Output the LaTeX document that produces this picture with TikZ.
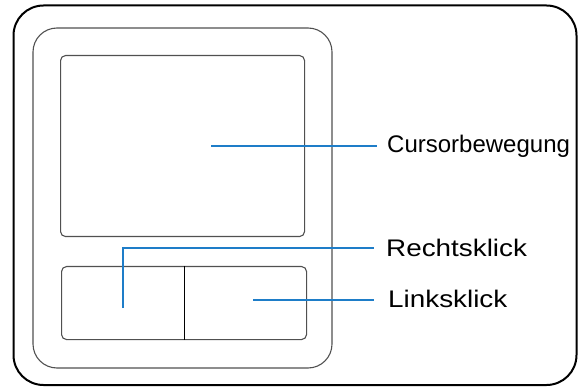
\documentclass[tikz,border=0pt]{standalone}
\usepackage{fontspec}
\usepackage{graphicx}
\setmainfont{Liberation Sans}
\definecolor{callout}{RGB}{30,125,200}
\definecolor{padgray}{RGB}{80,80,80}
\tikzset{
  frameout/.style={draw=black,line width=2pt,rounded corners=30pt},
  framemid/.style={draw=padgray,line width=1.1pt,rounded corners=24pt},
  padbox/.style={draw=padgray,line width=1.1pt,rounded corners=5pt},
  calloutline/.style={draw=callout,line width=1.2pt},
  lbl/.style={font=\fontsize{24}{28}\selectfont,inner sep=0pt,anchor=base west,text=black}
}
\begin{document}
\begin{tikzpicture}[x=1pt,y=-1pt]
\useasboundingbox (0,0) rectangle (578,387);
% frames
\draw[frameout] (13.5,5.5) rectangle (576.5,385);
\draw[framemid] (33,28) rectangle (332,368);
% touch pad and buttons
\node[padbox,minimum width=244pt,minimum height=181pt,anchor=north west,inner sep=0pt] (pad) at (60,55) {};
\node[padbox,minimum width=245pt,minimum height=73pt,anchor=north west,inner sep=0pt] (btns) at (61,266) {};
\draw[black,line width=1pt] (btns.north) -- (btns.south);
% labels
\node[lbl] (cur) at (387,153) {Cursorbewegung};
\node[lbl] (rec) at (386,257) {\scalebox{1.16}[1]{Rechtsklick}};
\node[lbl] (lin) at (388,307) {\scalebox{1.16}[1]{Linksklick}};
% callout lines
\coordinate (curS) at (211,146);
\coordinate (curE) at (377,146);
\coordinate (recS) at (123,308);
\coordinate (recK) at (123,248);
\coordinate (recE) at (374,248);
\coordinate (linS) at (253,300);
\coordinate (linE) at (374,300);
\draw[calloutline] (linS) -- (linE);
\draw[calloutline] (curS) -- (curE);
\draw[calloutline] (recS) -- (recK) -- (recE);
\end{tikzpicture}
\end{document}
